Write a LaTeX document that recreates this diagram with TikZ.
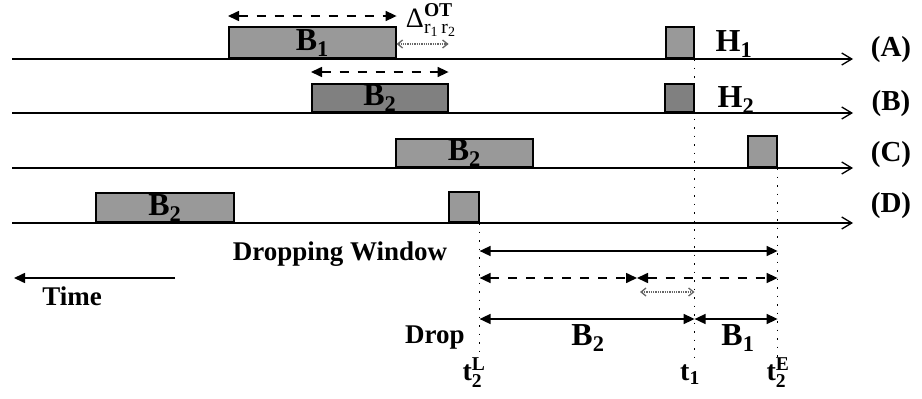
\documentclass[tikz,border=0pt]{standalone}
\usepackage{fontspec}
\setmainfont{Liberation Serif}
\usepackage{amsmath}
\usetikzlibrary{arrows.meta}

\newcommand{\lblfont}{\bfseries\fontsize{27}{30}\selectfont}
\newcommand{\bigfont}{\bfseries\fontsize{32}{36}\selectfont}

\begin{document}
\begin{tikzpicture}[x=1pt, y=-1pt,
    timeline/.style={line width=1.6pt, -{Straight Barb[length=10pt,width=12pt,line width=1.3pt]}},
    burst/.style={draw, line width=1.6pt, fill=black!40, inner sep=0pt, anchor=south west, font=\bigfont},
    lbl/.style={inner sep=0pt, font=\lblfont},
    biglbl/.style={inner sep=0pt, font=\bigfont},
    tlbl/.style={inner sep=0pt, font=\bfseries\fontsize{28}{30}\selectfont},
    span/.style={line width=1.6pt, {Triangle[length=11pt,width=10pt]}-{Triangle[length=11pt,width=10pt]}},
    dspan/.style={span, dash pattern=on 9pt off 9pt},
    gspan/.style={black!60, line width=1.3pt, densely dotted, {Straight Barb[length=5pt,width=8pt]}-{Straight Barb[length=5pt,width=8pt]}},
    guide/.style={line width=1.3pt, dash pattern=on 1.5pt off 7pt}
]
\useasboundingbox (0,0) rectangle (922,399);

% time lines
\coordinate (A0) at (12,59);  \coordinate (A1) at (853,59);
\coordinate (B0) at (12,113); \coordinate (B1) at (853,113);
\coordinate (C0) at (12,168); \coordinate (C1) at (853,168);
\coordinate (D0) at (12,223); \coordinate (D1) at (853,223);

% bursts and headers
\node[burst, minimum width=167pt, minimum height=31pt] (b1A) at (228,59) {B\textsubscript{1}};
\node[burst, minimum width=28pt, minimum height=31pt] (h1A) at (665,59) {};
\node[burst, minimum width=136pt, minimum height=28pt, fill=black!50] (b2B) at (311,113) {B\textsubscript{2}};
\node[burst, minimum width=29pt, minimum height=28pt, fill=black!50] (h2B) at (664,113) {};
\node[burst, minimum width=137pt, minimum height=28pt] (b2C) at (395,168) {B\textsubscript{2}};
\node[burst, minimum width=29pt, minimum height=31pt] (h2C) at (747,168) {};
\node[burst, minimum width=138pt, minimum height=29pt] (b2D) at (95,223) {B\textsubscript{2}};
\node[burst, minimum width=30pt, minimum height=30pt] (h2D) at (448,223) {};

% guides
\coordinate (tL) at (h2D.south east |- 0,358);
\coordinate (t1) at (h1A.south east |- 0,358);
\coordinate (tE) at (h2C.south east |- 0,358);
\draw[guide] (h2D.south east) -- (tL);
\draw[guide] (h1A.south east) -- (t1);
\draw[guide] (h2C.south east) -- (tE);

\draw[timeline] (A0) -- (A1);
\draw[timeline] (B0) -- (B1);
\draw[timeline] (C0) -- (C1);
\draw[timeline] (D0) -- (D1);

\node[lbl, font=\bfseries\fontsize{29}{32}\selectfont] (labA) at (891,50) {(A)};
\node[lbl, font=\bfseries\fontsize{29}{32}\selectfont] (labB) at (891,104) {(B)};
\node[lbl, font=\bfseries\fontsize{29}{32}\selectfont] (labC) at (891,155) {(C)};
\node[lbl, font=\bfseries\fontsize{29}{32}\selectfont] (labD) at (891,206) {(D)};
\node[biglbl] (hd1) at (734,44) {H\textsubscript{1}};
\node[biglbl] (hd2) at (736,100) {H\textsubscript{2}};

% burst lengths and offset
\coordinate (rA) at (0,16);
\coordinate (rB) at (0,72);
\coordinate (rO) at (0,44);
\draw[dspan] (b1A.north west |- rA) -- (b1A.north east |- rA);
\draw[dspan] (b2B.north west |- rB) -- (b2B.north east |- rB);
\draw[gspan] (b1A.east |- rO) -- (b2B.east |- rO);
\node[inner sep=0pt, font=\fontsize{28}{30}\selectfont] (delta) at (431,20)
  {$\text{Δ}^{\text{\bfseries OT}}_{\text{r}_{\text{1}}\,\text{r}_{\text{2}}}$};

% dropping window
\coordinate (rW) at (0,251);
\coordinate (rD) at (0,278);
\coordinate (rG) at (0,292);
\coordinate (rS) at (0,319);
\coordinate (mid) at (637,278);
\coordinate (gs) at (640,292);
\draw[span] (tL |- rW) -- (tE |- rW);
\draw[dspan] (tL |- rD) -- (mid);
\draw[dspan] (mid) -- (tE |- rD);
\draw[gspan] (gs) -- (t1 |- rG);
\draw[span] (tL |- rS) -- (t1 |- rS);
\draw[span] (t1 |- rS) -- (tE |- rS);
\node[lbl] (win) at (340,254) {Dropping Window};
\node[lbl] (drop) at (435,338) {Drop};
\node[biglbl] (len2) at (588,338) {B\textsubscript{2}};
\node[biglbl] (len1) at (738,338) {B\textsubscript{1}};
\node[tlbl, anchor=base] (tl) at (474,380) {t$^{\text{L}}_{\text{2}}$};
\node[tlbl, anchor=base] (tone) at (690,380) {t\textsubscript{1}};
\node[tlbl, anchor=base] (te) at (778,380) {t$^{\text{E}}_{\text{2}}$};

% time direction
\coordinate (ts) at (175,278);
\coordinate (te0) at (14,278);
\draw[line width=1.6pt, -{Triangle[length=11pt,width=10pt]}] (ts) -- (te0);
\node[lbl] (time) at (72,296) {Time};
\end{tikzpicture}
\end{document}
